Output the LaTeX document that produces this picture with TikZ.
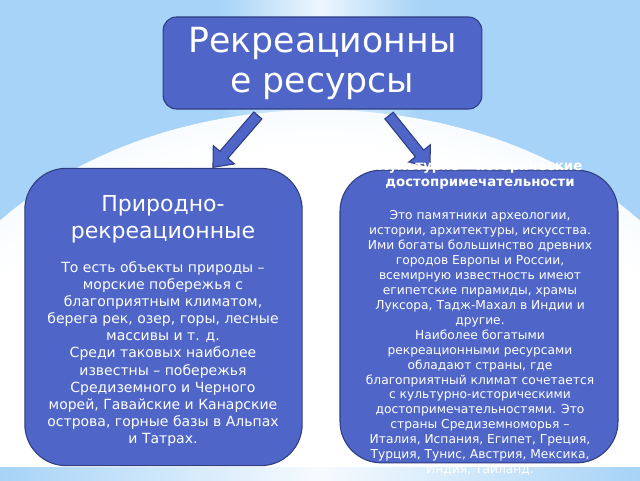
\documentclass[tikz,border=0pt]{standalone}
\usepackage{fontspec}
\setmainfont{DejaVu Sans}
\usetikzlibrary{shapes.arrows}
\definecolor{bgblue}{HTML}{A6D3F7}
\definecolor{boxfill}{HTML}{4F66C8}
\definecolor{boxline}{HTML}{2F3E80}
\colorlet{glowmid}{white!60!bgblue}
\colorlet{glowedge}{white!28!bgblue}
\pgfdeclareradialshading{glow}{\pgfpoint{0bp}{0bp}}{color(0bp)=(white); color(22bp)=(white); color(38bp)=(glowmid); color(50bp)=(glowedge)}
\begin{document}
\begin{tikzpicture}[x=0.75pt,y=-0.75pt,
  box/.style={draw=boxline, line width=0.8pt, fill=boxfill, inner sep=0pt},
  txt/.style={text=white, align=center, inner sep=0pt},
  barrow/.style={single arrow, draw=boxline, fill=boxfill, line width=0.8pt,
    inner sep=3.6pt, single arrow head extend=6.5pt, single arrow tip angle=80,
    sloped, allow upside down}
]
\useasboundingbox (0,0) rectangle (640,480);
% background
\fill[bgblue] (0,0) rectangle (640,480);
\begin{scope}
  \clip (0,0) rectangle (640,467);
  \shade[left color=bgblue, right color=bgblue, middle color=white!80!bgblue] (220,0) rectangle (420,200);
  \shade[shading=glow] (320,424) ellipse [x radius=420, y radius=314];
\end{scope}
\shade[left color=bgblue, right color=bgblue, middle color=white!90!bgblue] (0,467) rectangle (640,480);

% boxes
\node[box, rounded corners=10pt, minimum width=239pt, minimum height=69pt] (top) at (322.5,63) {};
\node[box, rounded corners=31pt, minimum width=208pt, minimum height=223pt] (left) at (163.5,317) {};
\node[box, rounded corners=31pt, minimum width=208.5pt, minimum height=219.5pt] (right) at (479,316.5) {};

% arrows
\coordinate (la1) at (260,113);
\coordinate (la2) at (215,165);
\coordinate (ra1) at (387,113);
\coordinate (ra2) at (428,164);
\path (la1) -- node[barrow, minimum height=51.5pt] (larrow) {} (la2);
\path (ra1) -- node[barrow, minimum height=49pt] (rarrow) {} (ra2);

% texts
\node[txt, font=\fontsize{26}{30}\selectfont] (toptext) at (top.center) {Рекреационны\\е ресурсы};
\node[txt, font=\fontsize{16.5}{20}\selectfont] (lefttitle) at (163,219) {Природно-\\рекреационные};
\node[txt, font=\fontsize{10.5}{12.8}\selectfont] (leftbody) at (163,354) {То есть объекты природы –\\морские побережья с\\благоприятным климатом,\\берега рек, озер, горы, лесные\\массивы и т. д.\\Среди таковых наиболее\\известны – побережья\\Средиземного и Черного\\морей, Гавайские и Канарские\\острова, горные базы в Альпах\\и Татрах.};
\node[txt, font=\bfseries\fontsize{10}{12}\selectfont] (righttitle) at (480,175) {Культурно – исторические\\достопримечательности};
\node[txt, font=\fontsize{9.2}{11.2}\selectfont] (rightbody) at (480,343) {Это памятники археологии,\\истории, архитектуры, искусства.\\Ими богаты большинство древних\\городов Европы и России,\\всемирную известность имеют\\египетские пирамиды, храмы\\Луксора, Тадж-Махал в Индии и\\другие.\\Наиболее богатыми\\рекреационными ресурсами\\обладают страны, где\\благоприятный климат сочетается\\с культурно-историческими\\достопримечательностями. Это\\страны Средиземноморья –\\Италия, Испания, Египет, Греция,\\Турция, Тунис, Австрия, Мексика,\\Индия, Таиланд.};
\end{tikzpicture}
\end{document}
